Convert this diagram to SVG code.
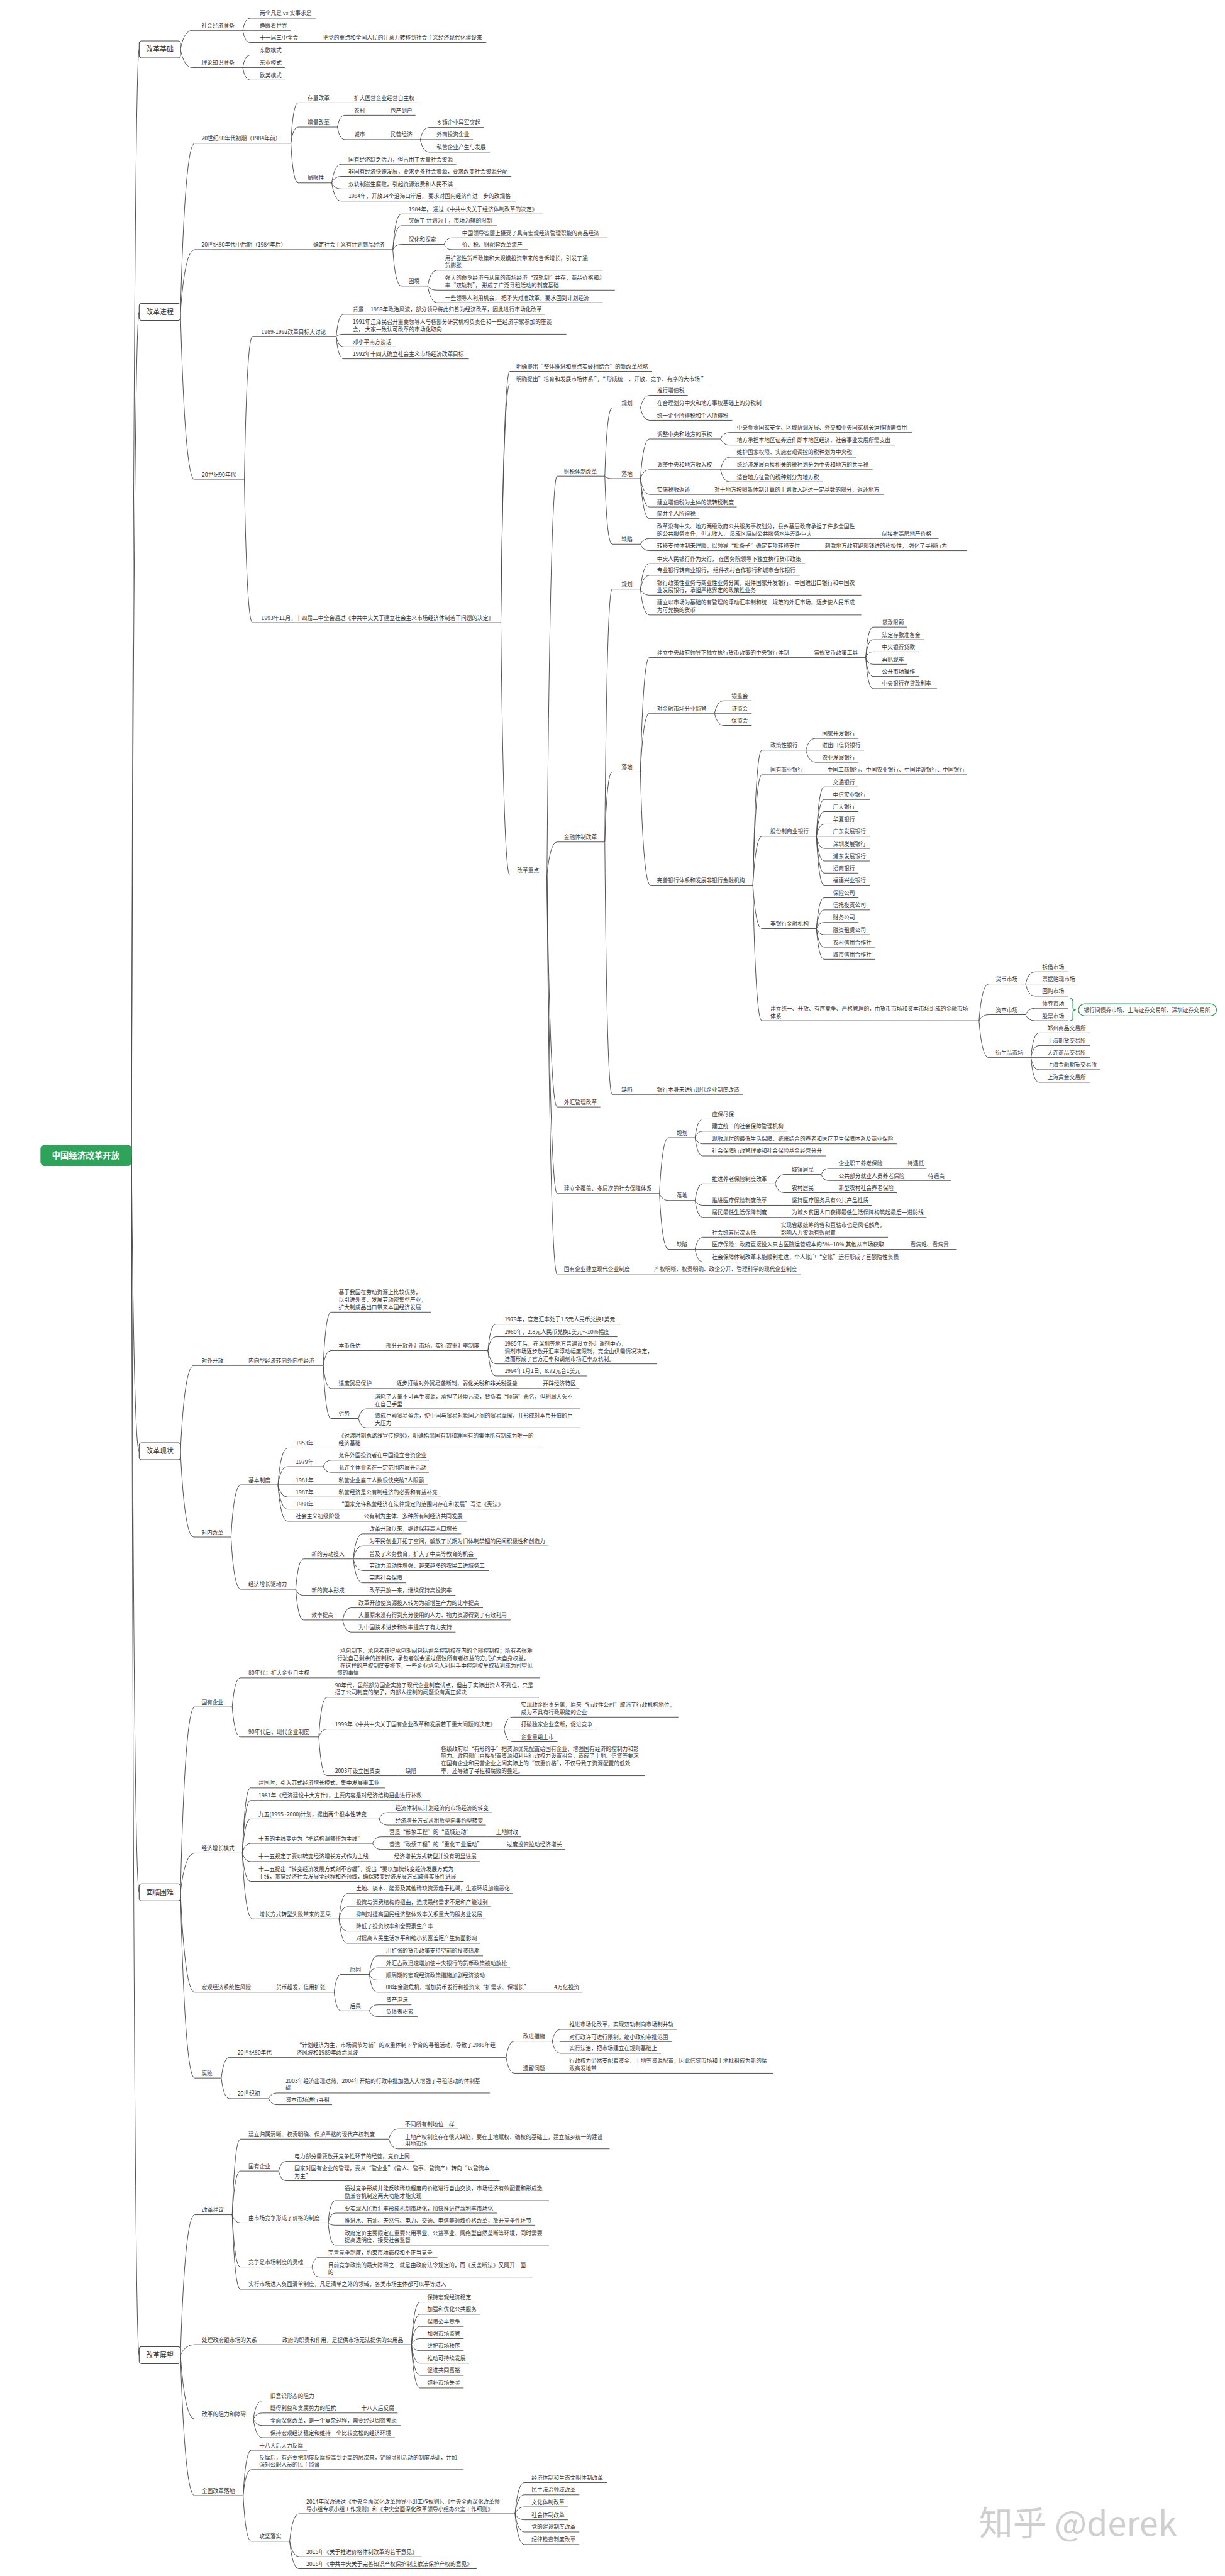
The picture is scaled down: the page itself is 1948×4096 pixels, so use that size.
<svg xmlns="http://www.w3.org/2000/svg" width="1948" height="4096" viewBox="0 0 1948 4096">
<style>
.t{font-family:"Noto Sans CJK SC","Noto Sans",sans-serif;font-size:13.6px;fill:#333}
.n path,.c path{stroke:#4d4d4d;stroke-width:1.5;fill:none}
.box rect{fill:#fff;stroke:#4d4d4d;stroke-width:1.8}
.bt{font-family:"Noto Sans CJK SC",sans-serif;font-size:17px;fill:#333;text-anchor:middle}
</style>
<rect width="1948" height="4096" fill="#fff"/>
<g transform="scale(0.64333)">
<g class="c" id="connectors">
<path d="M325 2856Q331 122 344 122M325 2856Q331 771 344 771M325 2856Q331 3587 344 3587M325 2856Q331 4677 344 4677M325 2856Q331 5821 344 5821"/>
<path d="M446 122Q455 75 475 75M446 122Q455 167 475 167M600 75Q605 45 618 45M600 75H618M600 75Q605 105 618 105M600 167Q605 136 618 136M600 167H618M600 167Q605 198 618 198"/>
<path d="M446 771Q457 354 481 354M446 771Q457 617 481 617M446 771Q457 1186 481 1186M719 354Q724 254 737 254M719 354Q724 314 737 314M719 354Q724 452 737 452M834 314Q839 285 852 285M834 314Q839 345 852 345M1039 345Q1045 315 1060 315M1039 345H1060M1039 345Q1045 376 1060 376M820 452Q827 406 843 406M820 452Q827 436 843 436M820 452Q827 467 843 467M820 452Q827 497 843 497"/>
<path d="M971 617Q977 529 992 529M971 617Q977 558 992 558M971 617Q977 604 992 604M971 617Q977 707 992 707M1098 604Q1103 588 1116 588M1098 604Q1103 617 1116 617M1057 707Q1064 668 1080 668M1057 707Q1064 717 1080 717M1057 707Q1064 748 1080 748"/>
<path d="M604 1186Q610 832 624 832M604 1186Q610 1539 624 1539M831 832Q836 777 849 777M831 832Q836 826 849 826M831 832Q836 857 849 857M831 832Q836 887 849 887M1238 1539Q1245 918 1260 918M1238 1539Q1245 949 1260 949M1238 1539Q1245 2163 1260 2163"/>
<path d="M1352 2163Q1360 1177 1377 1177M1352 2163Q1360 2081 1377 2081M1352 2163Q1360 2736 1377 2736M1352 2163Q1360 2950 1377 2950M1352 2163Q1360 3149 1377 3149"/>
<path d="M1495 1177Q1500 1008 1513 1008M1495 1177Q1500 1183 1513 1183M1495 1177Q1500 1345 1513 1345M1583 1008Q1590 977 1605 977M1583 1008H1605M1583 1008Q1590 1039 1605 1039M1583 1183Q1590 1085 1605 1085M1583 1183Q1590 1161 1605 1161M1583 1183Q1590 1222 1605 1222M1583 1183Q1590 1253 1605 1253M1583 1183Q1590 1282 1605 1282M1781 1085Q1788 1069 1803 1069M1781 1085Q1788 1100 1803 1100M1781 1161Q1788 1130 1803 1130M1781 1161H1803M1781 1161Q1788 1191 1803 1191M1583 1345Q1590 1331 1605 1331M1583 1345Q1590 1361 1605 1361"/>
<path d="M1495 2081Q1500 1456 1513 1456M1495 2081Q1500 1908 1513 1908M1495 2081Q1500 2705 1513 2705M1583 1456Q1590 1393 1605 1393M1583 1456Q1590 1422 1605 1422M1583 1456Q1590 1471 1605 1471M1583 1456Q1590 1520 1605 1520M1583 1908Q1590 1625 1605 1625M1583 1908Q1590 1763 1605 1763M1583 1908Q1590 2188 1608 2188"/>
<path d="M2140 1625Q2145 1550 2158 1550M2140 1625Q2145 1581 2158 1581M2140 1625Q2145 1611 2158 1611M2140 1625Q2145 1642 2158 1642M2140 1625Q2145 1672 2158 1672M2140 1625Q2145 1702 2158 1702M1766 1763Q1773 1732 1788 1732M1766 1763H1788M1766 1763Q1773 1793 1788 1793"/>
<path d="M1861 2188Q1868 1854 1883 1854M1861 2188Q1868 1915 1883 1915M1861 2188Q1868 2067 1883 2067M1861 2188Q1868 2295 1883 2295M1861 2188Q1868 2523 1883 2523M1992 1854Q1999 1825 2015 1825M1992 1854H2015M1992 1854Q1999 1884 2015 1884"/>
<path d="M2018 2067Q2024 1945 2037 1945M2018 2067Q2024 1976 2037 1976M2018 2067Q2024 2006 2037 2006M2018 2067Q2024 2037 2037 2037M2018 2067H2037M2018 2067Q2024 2097 2037 2097M2018 2067Q2024 2128 2037 2128M2018 2067Q2024 2158 2037 2158M2018 2067Q2024 2188 2037 2188"/>
<path d="M2018 2295Q2024 2219 2037 2219M2018 2295Q2024 2249 2037 2249M2018 2295Q2024 2280 2037 2280M2018 2295Q2024 2310 2037 2310M2018 2295Q2024 2341 2037 2341M2018 2295Q2024 2371 2037 2371"/>
<path d="M2420 2523Q2427 2432 2444 2432M2420 2523Q2427 2508 2444 2508M2420 2523Q2427 2614 2444 2614M2535 2432Q2542 2402 2558 2402M2535 2432H2558M2535 2432Q2542 2462 2558 2462M2535 2508Q2542 2492 2558 2492M2535 2508Q2542 2523 2558 2523M2548 2614Q2554 2553 2568 2553M2548 2614Q2554 2584 2568 2584M2548 2614H2568M2548 2614Q2554 2644 2568 2644M2548 2614Q2554 2675 2568 2675"/>
<path d="M1630 2950Q1637 2812 1652 2812M1630 2950Q1637 2967 1652 2967M1630 2950Q1637 3088 1652 3088M1718 2812Q1724 2766 1737 2766M1718 2812Q1724 2796 1737 2796M1718 2812Q1724 2827 1737 2827M1718 2812Q1724 2857 1737 2857M1718 2967Q1724 2926 1737 2926M1718 2967Q1724 2979 1737 2979M1718 2967Q1724 3009 1737 3009M1916 2926Q1923 2903 1938 2903M1916 2926Q1923 2948 1938 2948M2030 2903Q2035 2888 2048 2888M2030 2903Q2035 2918 2048 2918M1718 3088Q1724 3058 1737 3058M1718 3088H1737M1718 3088Q1724 3119 1737 3119"/>
<path d="M446 3587Q456 3375 479 3375M446 3587Q456 3799 479 3799M799 3375Q805 3243 818 3243M799 3375Q805 3338 818 3338M799 3375Q805 3432 818 3432M799 3375Q805 3506 818 3506M1206 3338Q1212 3273 1225 3273M1206 3338Q1212 3304 1225 3304M1206 3338Q1212 3371 1225 3371M1206 3338Q1212 3401 1225 3401M886 3506Q892 3482 905 3482M886 3506Q892 3529 905 3529"/>
<path d="M571 3799Q578 3670 595 3670M571 3799Q578 3928 595 3928M687 3670Q694 3579 711 3579M687 3670Q694 3625 711 3625M687 3670H711M687 3670Q694 3700 711 3700M687 3670Q694 3730 711 3730M687 3670Q694 3760 711 3760M799 3625Q805 3609 818 3609M799 3625Q805 3639 818 3639M731 3928Q737 3853 750 3853M731 3928Q737 3943 750 3943M731 3928Q737 4004 750 4004M873 3853Q880 3791 896 3791M873 3853Q880 3821 896 3821M873 3853H896M873 3853Q880 3882 896 3882M873 3853Q880 3912 896 3912M847 4004Q853 3974 867 3974M847 4004H867M847 4004Q853 4034 867 4034"/>
<path d="M446 4677Q457 4219 481 4219M446 4677Q457 4580 481 4580M446 4677Q457 4924 481 4924M446 4677Q457 5136 481 5136M574 4219Q580 4147 594 4147M574 4219Q580 4293 594 4293M788 4293Q794 4195 808 4195M788 4293Q794 4274 808 4274M788 4293Q794 4389 808 4389M1246 4274Q1252 4244 1266 4244M1246 4274H1266M1246 4274Q1252 4305 1266 4305"/>
<path d="M599 4580Q605 4419 619 4419M599 4580Q605 4450 619 4450M599 4580Q605 4496 619 4496M599 4580Q605 4556 619 4556M599 4580Q605 4601 619 4601M599 4580Q605 4650 619 4650M599 4580Q606 4743 624 4743M937 4496Q943 4480 957 4480M937 4496Q943 4511 957 4511M921 4556Q927 4540 941 4540M921 4556Q927 4571 941 4571M838 4743Q844 4680 858 4680M838 4743Q844 4713 858 4713M838 4743H858M838 4743Q844 4773 858 4773M838 4743Q844 4803 858 4803"/>
<path d="M826 4924Q831 4880 843 4880M826 4924Q831 4970 843 4970M913 4880Q919 4834 932 4834M913 4880Q919 4864 932 4864M913 4880Q919 4894 932 4894M913 4880Q919 4924 932 4924M913 4970Q919 4955 932 4955M913 4970Q919 4984 932 4984M547 5136Q553 5085 567 5085M547 5136Q553 5187 567 5187M1251 5085Q1257 5045 1271 5045M1251 5085Q1257 5124 1271 5124M1365 5045Q1371 5016 1385 5016M1365 5045H1385M1365 5045Q1371 5075 1385 5075M664 5187Q670 5173 684 5173M664 5187Q670 5202 684 5202"/>
<path d="M446 5821Q457 5474 481 5474M446 5821Q457 5795 481 5795M446 5821Q457 5979 481 5979M446 5821Q457 6168 481 6168M574 5474Q580 5287 594 5287M574 5474Q580 5366 594 5366M574 5474Q580 5494 594 5494M574 5474Q580 5603 594 5603M574 5474Q580 5658 594 5658M961 5287Q968 5262 983 5262M961 5287Q968 5311 983 5311M689 5366Q694 5342 707 5342M689 5366Q694 5390 707 5390M811 5494Q816 5439 829 5439M811 5494Q816 5470 829 5470M811 5494Q816 5500 829 5500M811 5494Q816 5549 829 5549M771 5603Q776 5579 789 5579M771 5603Q776 5628 789 5628"/>
<path d="M1017 5795Q1023 5690 1038 5690M1017 5795Q1023 5720 1038 5720M1017 5795Q1023 5750 1038 5750M1017 5795Q1023 5780 1038 5780M1017 5795Q1023 5810 1038 5810M1017 5795Q1023 5841 1038 5841M1017 5795Q1023 5871 1038 5871M1017 5795Q1023 5902 1038 5902M626 5979Q633 5934 648 5934M626 5979Q633 5964 648 5964M626 5979Q633 5995 648 5995M626 5979Q633 6025 648 6025M601 6168Q607 6056 621 6056M601 6168Q607 6104 621 6104M601 6168Q607 6281 621 6281M716 6281Q723 6213 739 6213M716 6281Q723 6319 739 6319M716 6281Q723 6349 739 6349"/>
<path d="M1273 6213Q1280 6136 1296 6136M1273 6213Q1280 6166 1296 6166M1273 6213Q1280 6196 1296 6196M1273 6213Q1280 6228 1296 6228M1273 6213Q1280 6258 1296 6258M1273 6213Q1280 6289 1296 6289"/>
</g>

<g id="root"><rect x="100" y="2830" width="225" height="52" rx="10" fill="#2ea35a"/><text x="212" y="2863" style="font-family:'Noto Sans CJK SC',sans-serif;font-size:21px;font-weight:bold;fill:#fff;text-anchor:middle">中国经济改革开放</text></g>
<g id="box1" class="box"><rect x="344" y="101" width="102" height="42" rx="6"/><text class="bt" x="395" y="128">改革基础</text></g>
<g id="box2" class="box"><rect x="344" y="750" width="102" height="42" rx="6"/><text class="bt" x="395" y="777">改革进程</text></g>
<g id="box3" class="box"><rect x="344" y="3566" width="102" height="42" rx="6"/><text class="bt" x="395" y="3593">改革现状</text></g>
<g id="box4" class="box"><rect x="344" y="4656" width="102" height="42" rx="6"/><text class="bt" x="395" y="4683">面临困难</text></g>
<g id="box5" class="box"><rect x="344" y="5800" width="102" height="42" rx="6"/><text class="bt" x="395" y="5827">改革展望</text></g>

<g id="a1" class="n"><text class="t" x="498" y="68">社会经济准备</text><path d="M475 75H600"/></g>
<g id="a1a" class="n"><text class="t" x="642" y="38">两个凡是 vs 实事求是</text><path d="M618 45H781"/></g>
<g id="a1b" class="n"><text class="t" x="642" y="68">睁眼看世界</text><path d="M618 75H719"/></g>
<g id="a1c" class="n"><text class="t" x="642" y="98">十一届三中全会</text><path d="M618 105H780"/></g>
<g id="a1c1" class="n"><text class="t" x="798" y="98">把党的重点和全国人民的注意力转移到社会主义经济现代化建设来</text><path d="M780 105H1202"/></g>
<g id="a2" class="n"><text class="t" x="498" y="160">理论知识准备</text><path d="M475 167H600"/></g>
<g id="a2a" class="n"><text class="t" x="642" y="129">东欧模式</text><path d="M618 136H704"/></g>
<g id="a2b" class="n"><text class="t" x="642" y="160">东亚模式</text><path d="M618 167H704"/></g>
<g id="a2c" class="n"><text class="t" x="642" y="191">欧美模式</text><path d="M618 198H704"/></g>

<g id="b1" class="n"><text class="t" x="498" y="347">20世纪80年代初期（1984年前）</text><path d="M481 354H719"/></g>
<g id="b1a" class="n"><text class="t" x="760" y="247">存量改革</text><path d="M737 254H861"/></g>
<g id="b1a1" class="n"><text class="t" x="875" y="247">扩大国营企业经营自主权</text><path d="M861 254H1033"/></g>
<g id="b1b" class="n"><text class="t" x="760" y="307">增量改革</text><path d="M737 314H834"/></g>
<g id="b1b1" class="n"><text class="t" x="875" y="278">农村</text><path d="M852 285H950"/></g>
<g id="b1b1a" class="n"><text class="t" x="965" y="278">包产到户</text><path d="M950 285H1027"/></g>
<g id="b1b2" class="n"><text class="t" x="875" y="338">城市</text><path d="M852 345H950"/></g>
<g id="b1b2a" class="n"><text class="t" x="965" y="338">民营经济</text><path d="M950 345H1039"/></g>
<g id="b1b2a1" class="n"><text class="t" x="1079" y="308">乡镇企业异军突起</text><path d="M1060 315H1196"/></g>
<g id="b1b2a2" class="n"><text class="t" x="1079" y="338">外商投资企业</text><path d="M1060 345H1169"/></g>
<g id="b1b2a3" class="n"><text class="t" x="1079" y="369">私营企业产生与发展</text><path d="M1060 376H1211"/></g>
<g id="b1c" class="n"><text class="t" x="760" y="445">局限性</text><path d="M737 452H820"/></g>
<g id="b1c1" class="n"><text class="t" x="861" y="399">国有经济缺乏活力，但占用了大量社会资源</text><path d="M843 406H1128"/></g>
<g id="b1c2" class="n"><text class="t" x="861" y="429">非国有经济快速发展，要求更多社会资源，要求改变社会资源分配</text><path d="M843 436H1264"/></g>
<g id="b1c3" class="n"><text class="t" x="861" y="460">双轨制滋生腐败，引起资源浪费和人民不满</text><path d="M843 467H1128"/></g>
<g id="b1c4" class="n"><text class="t" x="861" y="490">1984年，开放14个沿海口岸后， 要求对国内经济作进一步的改规格</text><path d="M843 497H1276"/></g>

<g id="b2" class="n"><text class="t" x="498" y="610">20世纪80年代中后期（1984年后）</text><path d="M481 617H760"/></g>
<g id="b2x" class="n"><text class="t" x="774" y="610">确定社会主义有计划商品经济</text><path d="M760 617H971"/></g>
<g id="b2a" class="n"><text class="t" x="1010" y="522">1984年， 通过《中共中央关于经济体制改革的决定》</text><path d="M992 529H1341"/></g>
<g id="b2b" class="n"><text class="t" x="1010" y="551">突破了 计划为主，市场为辅的限制</text><path d="M992 558H1229"/></g>
<g id="b2c" class="n"><text class="t" x="1010" y="597">深化和探索</text><path d="M992 604H1098"/></g>
<g id="b2c1" class="n"><text class="t" x="1142" y="581">中国领导答题上接受了具有宏观经济管理职能的商品经济</text><path d="M1116 588H1500"/></g>
<g id="b2c2" class="n"><text class="t" x="1142" y="610">价、税、财配套改革流产</text><path d="M1116 617H1305"/></g>
<g id="b2d" class="n"><text class="t" x="1010" y="700">困境</text><path d="M992 707H1057"/></g>
<g id="b2d1" class="n"><text class="t"><tspan x="1100" y="643">用扩张性货币政策和大规模投资带来的告诉增长，引发了通</tspan><tspan x="1100" y="661">货膨胀</tspan></text><path d="M1080 668H1490"/></g>
<g id="b2d2" class="n"><text class="t"><tspan x="1100" y="692">强大的命令经济与从属的市场经济“双轨制”并存，商品价格和汇</tspan><tspan x="1100" y="710">率“双轨制”， 形成了广泛寻租活动的制度基础</tspan></text><path d="M1080 717H1520"/></g>
<g id="b2d3" class="n"><text class="t" x="1100" y="741">一些领导人利用机会， 把矛头对准改革，要求回到计划经济</text><path d="M1080 748H1490"/></g>

<g id="b3" class="n"><text class="t" x="499" y="1179">20世纪90年代</text><path d="M481 1186H604"/></g>
<g id="b3a" class="n"><text class="t" x="646" y="825">1989-1992改革目标大讨论</text><path d="M624 832H831"/></g>
<g id="b3a1" class="n"><text class="t" x="872" y="770">背景： 1989年政治风波，部分领导将此归咎为经济改革，因此进行市场化改革</text><path d="M849 777H1347"/></g>
<g id="b3a2" class="n"><text class="t"><tspan x="872" y="801">1991年江泽民召开重要领导人与各部分研究机构负责任和一些经济学家参加的座谈</tspan><tspan x="872" y="819">会， 大家一致认可改革的市场化取向</tspan></text><path d="M849 826H1400"/></g>
<g id="b3a3" class="n"><text class="t" x="872" y="850">邓小平南方谈话</text><path d="M849 857H977"/></g>
<g id="b3a4" class="n"><text class="t" x="872" y="880">1992年十四大确立社会主义市场经济改革目标</text><path d="M849 887H1159"/></g>
<g id="b3b" class="n"><text class="t" x="646" y="1532">1993年11月，十四届三中全会通过《中共中央关于建立社会主义市场经济体制若干问题的决定》</text><path d="M624 1539H1238"/></g>
<g id="b3b1" class="n"><text class="t" x="1276" y="911">明确提出“整体推进和重点实破相结合”的新改革战略</text><path d="M1260 918H1612"/></g>
<g id="b3b2" class="n"><text class="t" x="1276" y="942">明确提出”培育和发展市场体系 ”，“ 形成统一、开放、竞争、有序的大市场 ”</text><path d="M1260 949H1762"/></g>
<g id="b3b3" class="n"><text class="t" x="1278" y="2156">改革重点</text><path d="M1260 2163H1352"/></g>

<g id="f1" class="n"><text class="t" x="1394" y="1170">财税体制改革</text><path d="M1377 1177H1495"/></g>
<g id="f1a" class="n"><text class="t" x="1536" y="1001">规划</text><path d="M1513 1008H1583"/></g>
<g id="f1a1" class="n"><text class="t" x="1624" y="970">推行增值税</text><path d="M1605 977H1700"/></g>
<g id="f1a2" class="n"><text class="t" x="1624" y="1001">在合理划分中央和地方事权基础上的分税制</text><path d="M1605 1008H1891"/></g>
<g id="f1a3" class="n"><text class="t" x="1624" y="1032">统一企业所得税和个人所得税</text><path d="M1605 1039H1810"/></g>
<g id="f1b" class="n"><text class="t" x="1536" y="1176">落地</text><path d="M1513 1183H1583"/></g>
<g id="f1b1" class="n"><text class="t" x="1624" y="1078">调整中央和地方的事权</text><path d="M1605 1085H1781"/></g>
<g id="f1b1a" class="n"><text class="t" x="1821" y="1062">中央负责国家安全、区域协调发展、外交和中央国家机关运作所需费用</text><path d="M1803 1069H2254"/></g>
<g id="f1b1b" class="n"><text class="t" x="1821" y="1093">地方承担本地区证券运作即本地区经济、社会事业发展所需支出</text><path d="M1803 1100H2212"/></g>
<g id="f1b2" class="n"><text class="t" x="1624" y="1154">调整中央和地方收入权</text><path d="M1605 1161H1781"/></g>
<g id="f1b2a" class="n"><text class="t" x="1821" y="1123">维护国家权限、实施宏观调控的税种划为中央税</text><path d="M1803 1130H2117"/></g>
<g id="f1b2b" class="n"><text class="t" x="1821" y="1154">统经济发展直接相关的税种划分为中央和地方的共享税</text><path d="M1803 1161H2157"/></g>
<g id="f1b2c" class="n"><text class="t" x="1821" y="1184">适合地方征管的税种划分为地方税</text><path d="M1803 1191H2034"/></g>
<g id="f1b3" class="n"><text class="t" x="1624" y="1215">实施税收返还</text><path d="M1605 1222H1745"/></g>
<g id="f1b3a" class="n"><text class="t" x="1766" y="1215">对于地方按照新体制计算的上划收入超过一定基数的部分，返还地方</text><path d="M1745 1222H2184"/></g>
<g id="f1b4" class="n"><text class="t" x="1624" y="1246">建立增值税为主体的流转税制度</text><path d="M1605 1253H1821"/></g>
<g id="f1b5" class="n"><text class="t" x="1624" y="1275">简并个人所得税</text><path d="M1605 1282H1729"/></g>
<g id="f1c" class="n"><text class="t" x="1536" y="1338">缺陷</text><path d="M1513 1345H1583"/></g>
<g id="f1c1" class="n"><text class="t"><tspan x="1624" y="1306">改革没有中央、地方两级政府公共服务事权划分，县乡基层政府承担了许多全国性</tspan><tspan x="1624" y="1324">的公共服务责任，但无收入， 造成区域间公共服务水平差距巨大</tspan></text><path d="M1605 1331H2160"/></g>
<g id="f1c1a" class="n"><text class="t" x="2180" y="1324">间接推高房地产价格</text><path d="M2160 1331H2320"/></g>
<g id="f1c2" class="n"><text class="t" x="1624" y="1354">转移支付体制未理顺，以领导“批条子”确定专项转移支付</text><path d="M1605 1361H2020"/></g>
<g id="f1c2a" class="n"><text class="t" x="2039" y="1354">刺激地方政府跑部钱进的积极性， 强化了寻租行为</text><path d="M2020 1361H2390"/></g>

<g id="f2" class="n"><text class="t" x="1394" y="2074">金融体制改革</text><path d="M1377 2081H1495"/></g>
<g id="f2a" class="n"><text class="t" x="1536" y="1449">规划</text><path d="M1513 1456H1583"/></g>
<g id="f2a1" class="n"><text class="t" x="1624" y="1386">中央人民银行作为央行， 在国务院领导下独立执行货币政策</text><path d="M1605 1393H1990"/></g>
<g id="f2a2" class="n"><text class="t" x="1624" y="1415">专业银行转商业银行， 组件农村合作银行和城市合作银行</text><path d="M1605 1422H1977"/></g>
<g id="f2a3" class="n"><text class="t"><tspan x="1624" y="1445">银行政策性业务与商业性业务分离，组件国家开发银行、中国进出口银行和中国农</tspan><tspan x="1624" y="1464">业发展银行，承担严格界定的政策性业务</tspan></text><path d="M1605 1471H2129"/></g>
<g id="f2a4" class="n"><text class="t"><tspan x="1624" y="1494">建立以市场为基础的有管理的浮动汇率制和统一规范的外汇市场，逐步使人民币成</tspan><tspan x="1624" y="1513">为可兑换的货币</tspan></text><path d="M1605 1520H2129"/></g>
<g id="f2b" class="n"><text class="t" x="1536" y="1901">落地</text><path d="M1513 1908H1583"/></g>
<g id="f2b1" class="n"><text class="t" x="1624" y="1618">建立中央政府领导下独立执行货币政策的中央银行体制</text><path d="M1605 1625H1990"/></g>
<g id="f2b1a" class="n"><text class="t" x="2012" y="1618">常规货币政策工具</text><path d="M1990 1625H2140"/></g>
<g id="f2b1a1" class="n"><text class="t" x="2180" y="1543">贷款限额</text><path d="M2158 1550H2243"/></g>
<g id="f2b1a2" class="n"><text class="t" x="2180" y="1574">法定存款准备金</text><path d="M2158 1581H2285"/></g>
<g id="f2b1a3" class="n"><text class="t" x="2180" y="1604">中央银行贷款</text><path d="M2158 1611H2272"/></g>
<g id="f2b1a4" class="n"><text class="t" x="2180" y="1635">再贴现率</text><path d="M2158 1642H2243"/></g>
<g id="f2b1a5" class="n"><text class="t" x="2180" y="1665">公开市场操作</text><path d="M2158 1672H2272"/></g>
<g id="f2b1a6" class="n"><text class="t" x="2180" y="1695">中央银行存贷款利率</text><path d="M2158 1702H2316"/></g>
<g id="f2b2" class="n"><text class="t" x="1624" y="1756">对金融市场分业监管</text><path d="M1605 1763H1766"/></g>
<g id="f2b2a" class="n"><text class="t" x="1808" y="1725">银监会</text><path d="M1788 1732H1858"/></g>
<g id="f2b2b" class="n"><text class="t" x="1808" y="1756">证监会</text><path d="M1788 1763H1858"/></g>
<g id="f2b2c" class="n"><text class="t" x="1808" y="1786">保监会</text><path d="M1788 1793H1858"/></g>
<g id="f2b3" class="n"><text class="t" x="1624" y="2181">完善银行体系和发展非银行金融机构</text><path d="M1608 2188H1861"/></g>
<g id="f2b3a" class="n"><text class="t" x="1904" y="1847">政策性银行</text><path d="M1883 1854H1992"/></g>
<g id="f2b3a1" class="n"><text class="t" x="2032" y="1818">国家开发银行</text><path d="M2015 1825H2122"/></g>
<g id="f2b3a2" class="n"><text class="t" x="2032" y="1847">进出口信贷银行</text><path d="M2015 1854H2136"/></g>
<g id="f2b3a3" class="n"><text class="t" x="2032" y="1877">农业发展银行</text><path d="M2015 1884H2122"/></g>
<g id="f2b3b" class="n"><text class="t" x="1904" y="1908">国有商业银行</text><path d="M1883 1915H2025"/></g>
<g id="f2b3b1" class="n"><text class="t" x="2045" y="1908">中国工商银行、中国农业银行、中国建设银行、中国银行</text><path d="M2025 1915H2390"/></g>
<g id="f2b3c" class="n"><text class="t" x="1904" y="2060">股份制商业银行</text><path d="M1883 2067H2018"/></g>
<g id="f2b3c1" class="n"><text class="t" x="2059" y="1938">交通银行</text><path d="M2037 1945H2122"/></g>
<g id="f2b3c2" class="n"><text class="t" x="2059" y="1969">中信实业银行</text><path d="M2037 1976H2150"/></g>
<g id="f2b3c3" class="n"><text class="t" x="2059" y="1999">广大银行</text><path d="M2037 2006H2122"/></g>
<g id="f2b3c4" class="n"><text class="t" x="2059" y="2030">华夏银行</text><path d="M2037 2037H2122"/></g>
<g id="f2b3c5" class="n"><text class="t" x="2059" y="2060">广东发展银行</text><path d="M2037 2067H2150"/></g>
<g id="f2b3c6" class="n"><text class="t" x="2059" y="2090">深圳发展银行</text><path d="M2037 2097H2150"/></g>
<g id="f2b3c7" class="n"><text class="t" x="2059" y="2121">浦东发展银行</text><path d="M2037 2128H2150"/></g>
<g id="f2b3c8" class="n"><text class="t" x="2059" y="2151">招商银行</text><path d="M2037 2158H2122"/></g>
<g id="f2b3c9" class="n"><text class="t" x="2059" y="2181">福建兴业银行</text><path d="M2037 2188H2150"/></g>
<g id="f2b3d" class="n"><text class="t" x="1904" y="2288">非银行金融机构</text><path d="M1883 2295H2018"/></g>
<g id="f2b3d1" class="n"><text class="t" x="2059" y="2212">保险公司</text><path d="M2037 2219H2122"/></g>
<g id="f2b3d2" class="n"><text class="t" x="2059" y="2242">信托投资公司</text><path d="M2037 2249H2150"/></g>
<g id="f2b3d3" class="n"><text class="t" x="2059" y="2273">财务公司</text><path d="M2037 2280H2122"/></g>
<g id="f2b3d4" class="n"><text class="t" x="2059" y="2303">融资租赁公司</text><path d="M2037 2310H2150"/></g>
<g id="f2b3d5" class="n"><text class="t" x="2059" y="2334">农村信用合作社</text><path d="M2037 2341H2164"/></g>
<g id="f2b3d6" class="n"><text class="t" x="2059" y="2364">城市信用合作社</text><path d="M2037 2371H2164"/></g>
<g id="f2b3e" class="n"><text class="t"><tspan x="1904" y="2498">建立统一、开放、有序竞争、严格管理的，由货币市场和资本市场组成的金融市场</tspan><tspan x="1904" y="2516">体系</tspan></text><path d="M1883 2523H2420"/></g>
<g id="m1" class="n"><text class="t" x="2461" y="2425">货币市场</text><path d="M2444 2432H2535"/></g>
<g id="m1a" class="n"><text class="t" x="2576" y="2395">拆借市场</text><path d="M2558 2402H2640"/></g>
<g id="m1b" class="n"><text class="t" x="2576" y="2425">票据贴现市场</text><path d="M2558 2432H2666"/></g>
<g id="m1c" class="n"><text class="t" x="2576" y="2455">回购市场</text><path d="M2558 2462H2640"/></g>
<g id="m2" class="n"><text class="t" x="2461" y="2501">资本市场</text><path d="M2444 2508H2535"/></g>
<g id="m2a" class="n"><text class="t" x="2576" y="2485">债券市场</text><path d="M2558 2492H2640"/></g>
<g id="m2b" class="n"><text class="t" x="2576" y="2516">股票市场</text><path d="M2558 2523H2640"/></g>
<g id="m2s" class="n"><path d="M2645 2468Q2652 2468 2652 2476V2489Q2652 2496 2659 2496Q2652 2496 2652 2503V2516Q2652 2523 2645 2523" style="stroke:#2e9e5e;stroke-width:2"/><rect x="2666" y="2481" width="341" height="30" rx="15" fill="#fff" stroke="#2e9e5e" stroke-width="2"/><text class="t" x="2679" y="2501">银行间债券市场、上海证券交易所、深圳证券交易所</text></g>
<g id="m3" class="n"><text class="t" x="2461" y="2607">衍生品市场</text><path d="M2444 2614H2548"/></g>
<g id="m3a" class="n"><text class="t" x="2589" y="2546">郑州商品交易所</text><path d="M2568 2553H2694"/></g>
<g id="m3b" class="n"><text class="t" x="2589" y="2577">上海期货交易所</text><path d="M2568 2584H2694"/></g>
<g id="m3c" class="n"><text class="t" x="2589" y="2607">大连商品交易所</text><path d="M2568 2614H2694"/></g>
<g id="m3d" class="n"><text class="t" x="2589" y="2637">上海金融期货交易所</text><path d="M2568 2644H2720"/></g>
<g id="m3e" class="n"><text class="t" x="2589" y="2668">上海黄金交易所</text><path d="M2568 2675H2694"/></g>
<g id="f2c" class="n"><text class="t" x="1536" y="2698">缺陷</text><path d="M1513 2705H1583"/></g>
<g id="f2c1" class="n"><text class="t" x="1624" y="2698">银行本身未进行现代企业制度改造</text><path d="M1583 2705H1836"/></g>
<g id="f3" class="n"><text class="t" x="1394" y="2729">外汇管理改革</text><path d="M1377 2736H1484"/></g>

<g id="f4" class="n"><text class="t" x="1394" y="2943">建立全覆盖、多层次的社会保障体系</text><path d="M1377 2950H1630"/></g>
<g id="f4a" class="n"><text class="t" x="1672" y="2805">规划</text><path d="M1652 2812H1718"/></g>
<g id="f4a1" class="n"><text class="t" x="1760" y="2759">应保尽保</text><path d="M1737 2766H1823"/></g>
<g id="f4a2" class="n"><text class="t" x="1760" y="2789">建立统一的社会保障管理机构</text><path d="M1737 2796H1946"/></g>
<g id="f4a3" class="n"><text class="t" x="1760" y="2820">现收现付的最低生活保障、统账结合的养老和医疗卫生保障体系及商业保险</text><path d="M1737 2827H2217"/></g>
<g id="f4a4" class="n"><text class="t" x="1760" y="2850">社会保障行政管理要和社会保险基金经营分开</text><path d="M1737 2857H2041"/></g>
<g id="f4b" class="n"><text class="t" x="1672" y="2960">落地</text><path d="M1652 2967H1718"/></g>
<g id="f4b1" class="n"><text class="t" x="1760" y="2919">推进养老保险制度改革</text><path d="M1737 2926H1916"/></g>
<g id="f4b1a" class="n"><text class="t" x="1957" y="2896">城镇居民</text><path d="M1938 2903H2030"/></g>
<g id="f4b1a1" class="n"><text class="t" x="2073" y="2881">企业职工养老保险</text><path d="M2048 2888H2225"/></g>
<g id="f4b1a1x" class="n"><text class="t" x="2243" y="2881">待遇低</text><path d="M2225 2888H2290"/></g>
<g id="f4b1a2" class="n"><text class="t" x="2073" y="2911">公共部分就业人员养老保险</text><path d="M2048 2918H2275"/></g>
<g id="f4b1a2x" class="n"><text class="t" x="2294" y="2911">待遇高</text><path d="M2275 2918H2350"/></g>
<g id="f4b1b" class="n"><text class="t" x="1957" y="2941">农村居民</text><path d="M1938 2948H2050"/></g>
<g id="f4b1b1" class="n"><text class="t" x="2073" y="2941">新型农村社会养老保险</text><path d="M2050 2948H2217"/></g>
<g id="f4b2" class="n"><text class="t" x="1760" y="2972">推进医疗保险制度改革</text><path d="M1737 2979H1935"/></g>
<g id="f4b2a" class="n"><text class="t" x="1957" y="2972">坚持医疗服务具有公共产品性质</text><path d="M1935 2979H2155"/></g>
<g id="f4b3" class="n"><text class="t" x="1760" y="3002">居民最低生活保障制度</text><path d="M1737 3009H1935"/></g>
<g id="f4b3a" class="n"><text class="t" x="1957" y="3002">为城乡贫困人口获得最低生活保障构筑起最后一道防线</text><path d="M1935 3009H2290"/></g>
<g id="f4c" class="n"><text class="t" x="1672" y="3081">缺陷</text><path d="M1652 3088H1718"/></g>
<g id="f4c1" class="n"><text class="t" x="1760" y="3051">社会统筹层次太低</text><path d="M1737 3058H1910"/></g>
<g id="f4c1a" class="n"><text class="t"><tspan x="1930" y="3033">实现省级统筹的省和直辖市也是凤毛麟角，</tspan><tspan x="1930" y="3051">影响人力资源有效配置</tspan></text><path d="M1910 3058H2195"/></g>
<g id="f4c2" class="n"><text class="t" x="1760" y="3081">医疗保险：政府直接投入只占医院运营成本的5%~10%,其他从市场获取</text><path d="M1737 3088H2230"/></g>
<g id="f4c2a" class="n"><text class="t" x="2250" y="3081">看病难、看病贵</text><path d="M2230 3088H2365"/></g>
<g id="f4c3" class="n"><text class="t" x="1760" y="3112">社会保障体制改革未能顺利推进，个人账户“空账”运行形成了巨额隐性负债</text><path d="M1737 3119H2232"/></g>
<g id="f5" class="n"><text class="t" x="1394" y="3142">国有企业建立现代企业制度</text><path d="M1377 3149H1600"/></g>
<g id="f5a" class="n"><text class="t" x="1617" y="3142">产权明晰、权责明确、政企分开、管理科学的现代企业制度</text><path d="M1600 3149H1979"/></g>

<g id="c1" class="n"><text class="t" x="498" y="3368">对外开放</text><path d="M479 3375H571"/></g>
<g id="c1x" class="n"><text class="t" x="614" y="3368">内向型经济转向外向型经济</text><path d="M571 3375H799"/></g>
<g id="c1a" class="n"><text class="t"><tspan x="837" y="3199">基于我国在劳动资源上比较优势，</tspan><tspan x="837" y="3217">以引进外资，发展劳动密集型产业，</tspan><tspan x="837" y="3236">扩大制成品出口带来本国经济发展</tspan></text><path d="M818 3243H1065"/></g>
<g id="c1b" class="n"><text class="t" x="837" y="3331">本币低估</text><path d="M818 3338H930"/></g>
<g id="c1b1" class="n"><text class="t" x="954" y="3331">部分开放外汇市场，实行双重汇率制度</text><path d="M930 3338H1206"/></g>
<g id="c1b1a" class="n"><text class="t" x="1247" y="3266">1979年，官定汇率处于1.5元人民币兑换1美元</text><path d="M1225 3273H1533"/></g>
<g id="c1b1b" class="n"><text class="t" x="1247" y="3297">1980年，2.8元人民币兑换1美元+-10%幅度</text><path d="M1225 3304H1526"/></g>
<g id="c1b1c" class="n"><text class="t"><tspan x="1247" y="3327">1985年后，在深圳等地方普遍设立外汇调剂中心，</tspan><tspan x="1247" y="3345">调剂市场逐步放开汇率浮动幅度限制，完全由供需情况决定，</tspan><tspan x="1247" y="3364">进而形成了官方汇率和调剂市场汇率双轨制。</tspan></text><path d="M1225 3371H1623"/></g>
<g id="c1b1d" class="n"><text class="t" x="1247" y="3394">1994年1月1日，8.72元合1美元</text><path d="M1225 3401H1451"/></g>
<g id="c1c" class="n"><text class="t" x="837" y="3425">适度贸易保护</text><path d="M818 3432H960"/></g>
<g id="c1c1" class="n"><text class="t" x="980" y="3425">逐步打破对外贸易垄断制，弱化关税和非关税壁垒</text><path d="M960 3432H1320"/></g>
<g id="c1c2" class="n"><text class="t" x="1342" y="3425">开辟经济特区</text><path d="M1320 3432H1432"/></g>
<g id="c1d" class="n"><text class="t" x="837" y="3499">劣势</text><path d="M818 3506H886"/></g>
<g id="c1d1" class="n"><text class="t"><tspan x="927" y="3457">消耗了大量不可再生资源，承担了环境污染，背负着“倾销”恶名，但利润大头不</tspan><tspan x="927" y="3475">在自己手里</tspan></text><path d="M905 3482H1434"/></g>
<g id="c1d2" class="n"><text class="t"><tspan x="927" y="3504">造成巨额贸易盈余，使中国与贸易对象国之间的贸易摩擦，并形成对本币升值的巨</tspan><tspan x="927" y="3522">大压力</tspan></text><path d="M905 3529H1434"/></g>

<g id="c2" class="n"><text class="t" x="498" y="3792">对内改革</text><path d="M479 3799H571"/></g>
<g id="c2a" class="n"><text class="t" x="614" y="3663">基本制度</text><path d="M595 3670H687"/></g>
<g id="c2a1" class="n"><text class="t" x="731" y="3572">1953年</text><path d="M711 3579H820"/></g>
<g id="c2a1x" class="n"><text class="t"><tspan x="837" y="3554">《过渡时期总路线宣传提纲》，明确指出国有制和准国有的集体所有制成为唯一的</tspan><tspan x="837" y="3572">经济基础</tspan></text><path d="M820 3579H1342"/></g>
<g id="c2a2" class="n"><text class="t" x="731" y="3618">1979年</text><path d="M711 3625H799"/></g>
<g id="c2a2a" class="n"><text class="t" x="837" y="3602">允许外国投资者在中国设立合资企业</text><path d="M818 3609H1060"/></g>
<g id="c2a2b" class="n"><text class="t" x="837" y="3632">允许个体业者在一定范围内展开活动</text><path d="M818 3639H1060"/></g>
<g id="c2a3" class="n"><text class="t" x="731" y="3663">1981年</text><path d="M711 3670H820"/></g>
<g id="c2a3x" class="n"><text class="t" x="837" y="3663">私营企业雇工人数很快突破7人限额</text><path d="M820 3670H1057"/></g>
<g id="c2a4" class="n"><text class="t" x="731" y="3693">1987年</text><path d="M711 3700H820"/></g>
<g id="c2a4x" class="n"><text class="t" x="837" y="3693">私营经济是公有制经济的必要和有益补充</text><path d="M820 3700H1090"/></g>
<g id="c2a5" class="n"><text class="t" x="731" y="3723">1988年</text><path d="M711 3730H820"/></g>
<g id="c2a5x" class="n"><text class="t" x="837" y="3723">“国家允许私营经济在法律规定的范围内存在和发展”写进《宪法》</text><path d="M820 3730H1237"/></g>
<g id="c2a6" class="n"><text class="t" x="731" y="3753">社会主义初级阶段</text><path d="M711 3760H880"/></g>
<g id="c2a6x" class="n"><text class="t" x="899" y="3753">公有制为主体、多种所有制经济共同发展</text><path d="M880 3760H1154"/></g>
<g id="c2b" class="n"><text class="t" x="614" y="3921">经济增长驱动力</text><path d="M595 3928H731"/></g>
<g id="c2b1" class="n"><text class="t" x="770" y="3846">新的劳动投入</text><path d="M750 3853H873"/></g>
<g id="c2b1a" class="n"><text class="t" x="913" y="3784">改革开放以来，继续保持高人口增长</text><path d="M896 3791H1140"/></g>
<g id="c2b1b" class="n"><text class="t" x="913" y="3814">为平民创业开拓了空间，解放了长期为旧体制禁锢的民间积极性和创造力</text><path d="M896 3821H1356"/></g>
<g id="c2b1c" class="n"><text class="t" x="913" y="3846">普及了义务教育，扩大了中高等教育的机会</text><path d="M896 3853H1180"/></g>
<g id="c2b1d" class="n"><text class="t" x="913" y="3875">劳动力流动性增强，越来越多的农民工进城务工</text><path d="M896 3882H1208"/></g>
<g id="c2b1e" class="n"><text class="t" x="913" y="3905">完善社会保障</text><path d="M896 3912H1004"/></g>
<g id="c2b2" class="n"><text class="t" x="770" y="3936">新的资本形成</text><path d="M750 3943H895"/></g>
<g id="c2b2x" class="n"><text class="t" x="913" y="3936">改革开放一来，继续保持高投资率</text><path d="M895 3943H1126"/></g>
<g id="c2b3" class="n"><text class="t" x="770" y="3997">效率提高</text><path d="M750 4004H847"/></g>
<g id="c2b3a" class="n"><text class="t" x="886" y="3967">改革开放使资源投入转为为新增生产力的比率提高</text><path d="M867 3974H1194"/></g>
<g id="c2b3b" class="n"><text class="t" x="886" y="3997">大量原来没有得到充分使用的人力、物力资源得到了有效利用</text><path d="M867 4004H1262"/></g>
<g id="c2b3c" class="n"><text class="t" x="886" y="4027">为中国技术进步和效率提高了有力支持</text><path d="M867 4034H1126"/></g>

<g id="d1" class="n"><text class="t" x="498" y="4212">国有企业</text><path d="M481 4219H574"/></g>
<g id="d1a" class="n"><text class="t" x="614" y="4140">80年代：扩大企业自主权</text><path d="M594 4147H815"/></g>
<g id="d1ax" class="n"><text class="t"><tspan x="841" y="4085">承包制下，承包者获得承包期间包括剩余控制权在内的全部控制权；所有者很难</tspan><tspan x="833" y="4103">行驶自己剩余的控制权，承包者就会通过侵蚀所有者权益的方式扩大自身权益。</tspan><tspan x="841" y="4122">在这样的产权制度安排下，一些企业承包人利用手中控制权牟取私利成为司空见</tspan><tspan x="833" y="4140">惯的事情</tspan></text><path d="M815 4147H1334"/></g>
<g id="d1b" class="n"><text class="t" x="614" y="4286">90年代后，现代企业制度</text><path d="M594 4293H788"/></g>
<g id="d1b1" class="n"><text class="t"><tspan x="828" y="4170">90年代，虽然部分国企实施了现代企业制度试点，但由于实际出资人不到位，只是</tspan><tspan x="828" y="4188">搭了公司制度的架子，内部人控制的问题没有真正解决</tspan></text><path d="M808 4195H1332"/></g>
<g id="d1b2" class="n"><text class="t" x="828" y="4267">1999年《中共中央关于国有企业改革和发展若干重大问题的决定》</text><path d="M808 4274H1246"/></g>
<g id="d1b2a" class="n"><text class="t"><tspan x="1288" y="4219">实现政企职责分离，原来“行政性公司”取消了行政机构地位，</tspan><tspan x="1288" y="4237">成为不具有行政职能的企业</tspan></text><path d="M1266 4244H1677"/></g>
<g id="d1b2b" class="n"><text class="t" x="1288" y="4267">打破独家企业垄断，促进竞争</text><path d="M1266 4274H1472"/></g>
<g id="d1b2c" class="n"><text class="t" x="1288" y="4298">企业重组上市</text><path d="M1266 4305H1378"/></g>
<g id="d1b3" class="n"><text class="t" x="828" y="4382">2003年设立国资委</text><path d="M808 4389H985"/></g>
<g id="d1b3a" class="n"><text class="t" x="1002" y="4382">缺陷</text><path d="M985 4389H1070"/></g>
<g id="d1b3b" class="n"><text class="t"><tspan x="1090" y="4327">各级政府以“有形的手”把资源优先配置给国有企业，增强国有经济的控制力和影</tspan><tspan x="1090" y="4345">响力。政府部门直接配置资源和利用行政权力设置租金，造成了土地、信贷等要求</tspan><tspan x="1090" y="4364">在国有企业和民营企业之间实际上的“双重价格”，不仅导致了资源配置的低效</tspan><tspan x="1090" y="4382">率，还导致了寻租和腐败的蔓延。</tspan></text><path d="M1070 4389H1594"/></g>

<g id="d2" class="n"><text class="t" x="498" y="4573">经济增长模式</text><path d="M481 4580H599"/></g>
<g id="d2a" class="n"><text class="t" x="639" y="4412">建国时，引入苏式经济增长模式，集中发展重工业</text><path d="M619 4419H952"/></g>
<g id="d2b" class="n"><text class="t" x="639" y="4443">1981年《经济建设十大方针》，主要内容是对经济结构扭曲进行补救</text><path d="M619 4450H1062"/></g>
<g id="d2c" class="n"><text class="t" x="639" y="4489">九五(1995~2000)计划，提出两个根本性转变</text><path d="M619 4496H937"/></g>
<g id="d2c1" class="n"><text class="t" x="977" y="4473">经济体制从计划经济向市场经济的转变</text><path d="M957 4480H1216"/></g>
<g id="d2c2" class="n"><text class="t" x="977" y="4504">经济增长方式从粗放型向集约型转变</text><path d="M957 4511H1201"/></g>
<g id="d2d" class="n"><text class="t" x="639" y="4549">十五的主线变更为“把结构调整作为主线”</text><path d="M619 4556H921"/></g>
<g id="d2d1" class="n"><text class="t" x="962" y="4533">营造“形象工程”的“造城运动”</text><path d="M941 4540H1205"/></g>
<g id="d2d1x" class="n"><text class="t" x="1226" y="4533">土地财政</text><path d="M1205 4540H1288"/></g>
<g id="d2d2" class="n"><text class="t" x="962" y="4564">营造“政绩工程”的“重化工业运动”</text><path d="M941 4571H1235"/></g>
<g id="d2d2x" class="n"><text class="t" x="1253" y="4564">过度投资拉动经济增长</text><path d="M1235 4571H1397"/></g>
<g id="d2e" class="n"><text class="t" x="639" y="4594">十一五规定了要以转变经济增长方式作为主线</text><path d="M619 4601H955"/></g>
<g id="d2ex" class="n"><text class="t" x="974" y="4594">经济增长方式转型并没有明显进展</text><path d="M955 4601H1186"/></g>
<g id="d2f" class="n"><text class="t"><tspan x="639" y="4625">十二五提出“转变经济发展方式刻不容缓”，提出“要以加快转变经济发展方式为</tspan><tspan x="639" y="4643">主线，贯穿经济社会发展全过程和各领域，确保转变经济发展方式取得实质性进展</tspan></text><path d="M619 4650H1146"/></g>
<g id="d2g" class="n"><text class="t" x="641" y="4736">增长方式转型失败带来的恶果</text><path d="M624 4743H838"/></g>
<g id="d2g1" class="n"><text class="t" x="880" y="4673">土地、淡水、能源及其他稀缺资源趋于枯竭，生态环境加速恶化</text><path d="M858 4680H1268"/></g>
<g id="d2g2" class="n"><text class="t" x="880" y="4706">投资与消费结构的扭曲，造成最终需求不足和产能过剩</text><path d="M858 4713H1214"/></g>
<g id="d2g3" class="n"><text class="t" x="880" y="4736">抑制对提高国民经济整体效率关系重大的服务业发展</text><path d="M858 4743H1201"/></g>
<g id="d2g4" class="n"><text class="t" x="880" y="4766">降低了投资效率和全要素生产率</text><path d="M858 4773H1077"/></g>
<g id="d2g5" class="n"><text class="t" x="880" y="4796">对提高人民生活水平和缩小贫富差距产生负面影响</text><path d="M858 4803H1186"/></g>

<g id="d3" class="n"><text class="t" x="498" y="4917">宏观经济系统性风险</text><path d="M481 4924H665"/></g>
<g id="d3x" class="n"><text class="t" x="682" y="4917">货币超发，信用扩张</text><path d="M665 4924H826"/></g>
<g id="d3a" class="n"><text class="t" x="865" y="4873">原因</text><path d="M843 4880H913"/></g>
<g id="d3a1" class="n"><text class="t" x="954" y="4827">用扩张的货币政策支持空前的投资热潮</text><path d="M932 4834H1194"/></g>
<g id="d3a2" class="n"><text class="t" x="954" y="4857">外汇占款迅速增加使中央银行的货币政策被动放松</text><path d="M932 4864H1261"/></g>
<g id="d3a3" class="n"><text class="t" x="954" y="4887">顺周期的宏观经济政策措施加剧经济波动</text><path d="M932 4894H1209"/></g>
<g id="d3a4" class="n"><text class="t" x="954" y="4917">08年金融危机，增加货币发行和投资来“扩需求、保增长”</text><path d="M932 4924H1350"/></g>
<g id="d3a4x" class="n"><text class="t" x="1370" y="4917">4万亿投资</text><path d="M1350 4924H1440"/></g>
<g id="d3b" class="n"><text class="t" x="865" y="4963">后果</text><path d="M843 4970H913"/></g>
<g id="d3b1" class="n"><text class="t" x="954" y="4948">资产泡沫</text><path d="M932 4955H1017"/></g>
<g id="d3b2" class="n"><text class="t" x="954" y="4977">负债表积累</text><path d="M932 4984H1032"/></g>

<g id="d4" class="n"><text class="t" x="498" y="5129">腐败</text><path d="M481 5136H547"/></g>
<g id="d4a" class="n"><text class="t" x="587" y="5078">20世纪80年代</text><path d="M567 5085H715"/></g>
<g id="d4ax" class="n"><text class="t"><tspan x="733" y="5060">“计划经济为主，市场调节为辅”的双重体制下孕育的寻租活动，导致了1988年经</tspan><tspan x="733" y="5078">济风波和1989年政治风波</tspan></text><path d="M715 5085H1251"/></g>
<g id="d4a1" class="n"><text class="t" x="1293" y="5038">改进措施</text><path d="M1271 5045H1365"/></g>
<g id="d4a1a" class="n"><text class="t" x="1407" y="5009">推进市场化改革，实现双轨制向市场制并轨</text><path d="M1385 5016H1674"/></g>
<g id="d4a1b" class="n"><text class="t" x="1407" y="5039">对行政许可进行限制，缩小政府审批范围</text><path d="M1385 5046H1661"/></g>
<g id="d4a1c" class="n"><text class="t" x="1407" y="5068">实行法治，把市场建立在规则基础上</text><path d="M1385 5075H1634"/></g>
<g id="d4a2" class="n"><text class="t" x="1293" y="5117">遗留问题</text><path d="M1271 5124H1390"/></g>
<g id="d4a2x" class="n"><text class="t"><tspan x="1407" y="5099">行政权力仍然支配着资金、土地等资源配置，因此信贷市场和土地批租成为新的腐</tspan><tspan x="1407" y="5117">败高发地带</tspan></text><path d="M1390 5124H1912"/></g>
<g id="d4b" class="n"><text class="t" x="587" y="5180">20世纪初</text><path d="M567 5187H664"/></g>
<g id="d4b1" class="n"><text class="t"><tspan x="706" y="5148">2003年经济出现过热，2004年开始的行政审批加强大大增强了寻租活动的体制基</tspan><tspan x="706" y="5166">础</tspan></text><path d="M684 5173H1211"/></g>
<g id="d4b2" class="n"><text class="t" x="706" y="5195">资本市场进行寻租</text><path d="M684 5202H821"/></g>

<g id="e1" class="n"><text class="t" x="499" y="5467">改革建议</text><path d="M481 5474H574"/></g>
<g id="e1a" class="n"><text class="t" x="614" y="5280">建立归属清晰、权责明确、保护严格的现代产权制度</text><path d="M594 5287H961"/></g>
<g id="e1a1" class="n"><text class="t" x="1001" y="5255">不同所有制地位一样</text><path d="M983 5262H1133"/></g>
<g id="e1a2" class="n"><text class="t"><tspan x="1001" y="5286">土地产权制度存在很大缺陷，要在土地赋权、确权的基础上，建立城乡统一的建设</tspan><tspan x="1001" y="5304">用地市场</tspan></text><path d="M983 5311H1507"/></g>
<g id="e1b" class="n"><text class="t" x="614" y="5359">国有企业</text><path d="M594 5366H689"/></g>
<g id="e1b1" class="n"><text class="t" x="728" y="5335">电力部分需要放开竞争性环节的经营，竞价上网</text><path d="M707 5342H1024"/></g>
<g id="e1b2" class="n"><text class="t"><tspan x="728" y="5365">国家对国有企业的管理，要从“管企业”（管人、管事、管资产）转向“以管资本</tspan><tspan x="728" y="5383">为主”</tspan></text><path d="M707 5390H1235"/></g>
<g id="e1c" class="n"><text class="t" x="614" y="5487">由市场竞争形成了价格的制度</text><path d="M594 5494H811"/></g>
<g id="e1c1" class="n"><text class="t"><tspan x="852" y="5414">通过竞争形成并能反映稀缺程度的价格进行自由交换，市场经济有效配置和形成激</tspan><tspan x="852" y="5432">励兼容机制这两大功能才能实现</tspan></text><path d="M829 5439H1357"/></g>
<g id="e1c2" class="n"><text class="t" x="852" y="5463">要实现人民币汇率形成机制市场化，加快推进存款利率市场化</text><path d="M829 5470H1228"/></g>
<g id="e1c3" class="n"><text class="t" x="852" y="5493">推进水、石油、天然气、电力、交通、电信等领域价格改革，放开竞争性环节</text><path d="M829 5500H1323"/></g>
<g id="e1c4" class="n"><text class="t"><tspan x="852" y="5524">政府定价主要限定在重要公用事业、公益事业、网络型自然垄断等环境，同时需要</tspan><tspan x="852" y="5542">提高透明度、接受社会监督</tspan></text><path d="M829 5549H1357"/></g>
<g id="e1d" class="n"><text class="t" x="614" y="5596">竞争是市场制度的灵魂</text><path d="M594 5603H771"/></g>
<g id="e1d1" class="n"><text class="t" x="811" y="5572">完善竞争制度，约束市场霸权和不正当竞争</text><path d="M789 5579H1081"/></g>
<g id="e1d2" class="n"><text class="t"><tspan x="811" y="5603">目前竞争政策的最大障碍之一就是由政府法令规定的，而《反垄断法》又网开一面</tspan><tspan x="811" y="5621">的</tspan></text><path d="M789 5628H1316"/></g>
<g id="e1e" class="n"><text class="t" x="614" y="5651">实行市场进入负面清单制度，凡是清单之外的领域，各类市场主体都可以平等进入</text><path d="M594 5658H1117"/></g>

<g id="e2" class="n"><text class="t" x="499" y="5788">处理政府跟市场的关系</text><path d="M481 5795H680"/></g>
<g id="e2x" class="n"><text class="t" x="698" y="5788">政府的职责和作用，是提供市场无法提供的公用品</text><path d="M680 5795H1017"/></g>
<g id="e2a" class="n"><text class="t" x="1056" y="5683">保持宏观经济稳定</text><path d="M1038 5690H1174"/></g>
<g id="e2b" class="n"><text class="t" x="1056" y="5713">加强和优化公共服务</text><path d="M1038 5720H1187"/></g>
<g id="e2c" class="n"><text class="t" x="1056" y="5743">保障公平竞争</text><path d="M1038 5750H1146"/></g>
<g id="e2d" class="n"><text class="t" x="1056" y="5773">加强市场监管</text><path d="M1038 5780H1146"/></g>
<g id="e2e" class="n"><text class="t" x="1056" y="5803">维护市场秩序</text><path d="M1038 5810H1146"/></g>
<g id="e2f" class="n"><text class="t" x="1056" y="5834">推动可持续发展</text><path d="M1038 5841H1160"/></g>
<g id="e2g" class="n"><text class="t" x="1056" y="5864">促进共同富裕</text><path d="M1038 5871H1146"/></g>
<g id="e2h" class="n"><text class="t" x="1056" y="5895">弥补市场失灵</text><path d="M1038 5902H1146"/></g>

<g id="e3" class="n"><text class="t" x="499" y="5972">改革的阻力和障碍</text><path d="M481 5979H626"/></g>
<g id="e3a" class="n"><text class="t" x="668" y="5927">旧意识形态的阻力</text><path d="M648 5934H786"/></g>
<g id="e3b" class="n"><text class="t" x="668" y="5957">既得利益和贪腐势力的阻抗</text><path d="M648 5964H875"/></g>
<g id="e3bx" class="n"><text class="t" x="893" y="5957">十八大后反腐</text><path d="M875 5964H983"/></g>
<g id="e3c" class="n"><text class="t" x="668" y="5988">全面深化改革，是一个复杂过程，需要经过周密考虑</text><path d="M648 5995H990"/></g>
<g id="e3d" class="n"><text class="t" x="668" y="6018">保持宏观经济稳定和维持一个比较宽松的经济环境</text><path d="M648 6025H976"/></g>

<g id="e4" class="n"><text class="t" x="499" y="6161">全面改革落地</text><path d="M481 6168H601"/></g>
<g id="e4a" class="n"><text class="t" x="641" y="6049">十八大后大力反腐</text><path d="M621 6056H759"/></g>
<g id="e4b" class="n"><text class="t"><tspan x="641" y="6079">反腐后，有必要把制度反腐提高到更高的层次来，铲除寻租活动的制度基础，并加</tspan><tspan x="641" y="6097">强对公职人员的民主监督</tspan></text><path d="M621 6104H1146"/></g>
<g id="e4c" class="n"><text class="t" x="641" y="6274">攻坚落实</text><path d="M621 6281H716"/></g>
<g id="e4c1" class="n"><text class="t"><tspan x="757" y="6188">2014年深改通过《中央全面深化改革领导小组工作规则》、《中央全面深化改革领</tspan><tspan x="757" y="6206">导小组专项小组工作规则》和《中央全面深化改革领导小组办公室工作细则》</tspan></text><path d="M739 6213H1273"/></g>
<g id="e4c1a" class="n"><text class="t" x="1314" y="6129">经济体制和生态文明体制改革</text><path d="M1296 6136H1500"/></g>
<g id="e4c1b" class="n"><text class="t" x="1314" y="6159">民主法治领域改革</text><path d="M1296 6166H1432"/></g>
<g id="e4c1c" class="n"><text class="t" x="1314" y="6189">文化体制改革</text><path d="M1296 6196H1404"/></g>
<g id="e4c1d" class="n"><text class="t" x="1314" y="6221">社会体制改革</text><path d="M1296 6228H1404"/></g>
<g id="e4c1e" class="n"><text class="t" x="1314" y="6251">党的建设制度改革</text><path d="M1296 6258H1432"/></g>
<g id="e4c1f" class="n"><text class="t" x="1314" y="6282">纪律检查制度改革</text><path d="M1296 6289H1432"/></g>
<g id="e4c2" class="n"><text class="t" x="757" y="6312">2015年《关于推进价格体制改革的若干意见》</text><path d="M739 6319H1042"/></g>
<g id="e4c3" class="n"><text class="t" x="757" y="6342">2016年《中共中央关于完善知识产权保护制度依法保护产权的意见》</text><path d="M739 6349H1178"/></g>

<text x="2420" y="6268" style="font-family:'Noto Sans CJK SC',sans-serif;font-size:84px;fill:#cfcfcf">知乎 @derek</text>
</g>
</svg>
